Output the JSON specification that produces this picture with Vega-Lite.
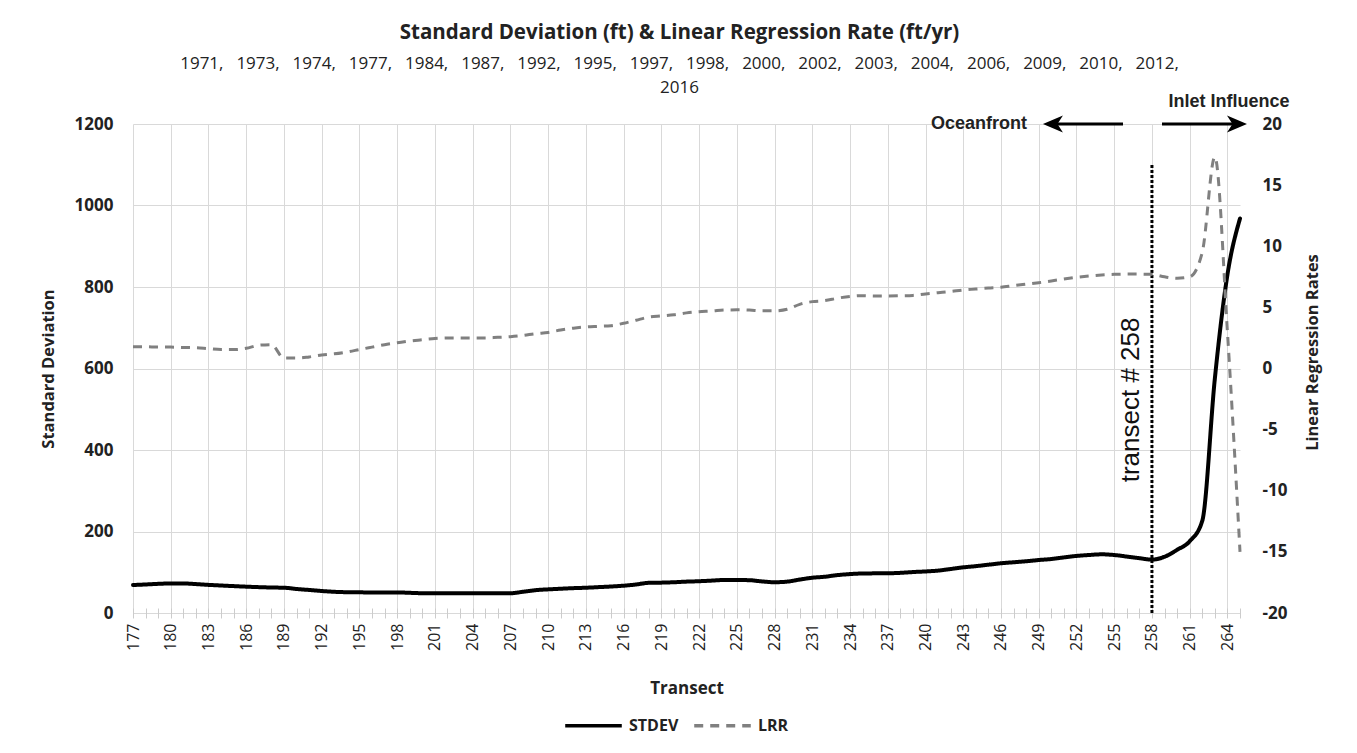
{
  "$schema": "https://vega.github.io/schema/vega-lite/v6.json",
  "width": 1107,
  "height": 489,
  "autosize": "none",
  "padding": {"left": 133, "top": 124, "right": 117, "bottom": 140},
  "background": "white",
  "title": {
    "text": "Standard Deviation (ft) & Linear Regression Rate (ft/yr)",
    "subtitle": ["1971,\u2002 1973,\u2002 1974,\u2002 1977,\u2002 1984,\u2002 1987,\u2002 1992,\u2002 1995,\u2002 1997,\u2002 1998,\u2002 2000,\u2002 2002,\u2002 2003,\u2002 2004,\u2002 2006,\u2002 2009,\u2002 2010,\u2002 2012,", "2016"],
    "font": "Open Sans",
    "fontSize": 20.5,
    "fontWeight": "bold",
    "color": "#222222",
    "subtitleFont": "Open Sans",
    "subtitleFontSize": 17,
    "subtitleColor": "#222222",
    "subtitleLineHeight": 24,
    "subtitlePadding": 12,
    "anchor": "middle",
    "frame": "group",
    "dx": -7,
    "offset": -3
  },
  "datasets": {
    "lines": [
      {"t":177,"STDEV":68.7,"LRR":1.78},{"t":178,"STDEV":70,"LRR":1.78},{"t":179,"STDEV":71.5,"LRR":1.75},
      {"t":180,"STDEV":72.5,"LRR":1.75},{"t":181,"STDEV":72.5,"LRR":1.72},{"t":182,"STDEV":71,"LRR":1.7},
      {"t":183,"STDEV":69,"LRR":1.62},{"t":184,"STDEV":67.5,"LRR":1.55},{"t":185,"STDEV":66,"LRR":1.55},
      {"t":186,"STDEV":64.6,"LRR":1.65},{"t":187,"STDEV":63.5,"LRR":1.9},{"t":188,"STDEV":62.5,"LRR":1.95},
      {"t":189,"STDEV":62,"LRR":0.85},{"t":190,"STDEV":59,"LRR":0.85},{"t":191,"STDEV":56.5,"LRR":0.95},
      {"t":192,"STDEV":54,"LRR":1.1},{"t":193,"STDEV":52,"LRR":1.2},{"t":194,"STDEV":51,"LRR":1.35},
      {"t":195,"STDEV":50.7,"LRR":1.55},{"t":196,"STDEV":50.5,"LRR":1.75},{"t":197,"STDEV":50.5,"LRR":1.95},
      {"t":198,"STDEV":50.5,"LRR":2.1},{"t":199,"STDEV":49.5,"LRR":2.25},{"t":200,"STDEV":48.5,"LRR":2.35},
      {"t":201,"STDEV":48.3,"LRR":2.45},{"t":202,"STDEV":48.3,"LRR":2.5},{"t":203,"STDEV":48.3,"LRR":2.5},
      {"t":204,"STDEV":48.3,"LRR":2.5},{"t":205,"STDEV":48.3,"LRR":2.5},{"t":206,"STDEV":48.3,"LRR":2.55},
      {"t":207,"STDEV":48.5,"LRR":2.6},{"t":208,"STDEV":52,"LRR":2.7},{"t":209,"STDEV":56,"LRR":2.85},
      {"t":210,"STDEV":58,"LRR":2.95},{"t":211,"STDEV":59.5,"LRR":3.15},{"t":212,"STDEV":61,"LRR":3.3},
      {"t":213,"STDEV":62,"LRR":3.4},{"t":214,"STDEV":63.5,"LRR":3.45},{"t":215,"STDEV":65,"LRR":3.5},
      {"t":216,"STDEV":67,"LRR":3.7},{"t":217,"STDEV":70,"LRR":3.95},{"t":218,"STDEV":74,"LRR":4.2},
      {"t":219,"STDEV":74.5,"LRR":4.3},{"t":220,"STDEV":75.5,"LRR":4.4},{"t":221,"STDEV":77,"LRR":4.55},
      {"t":222,"STDEV":78,"LRR":4.65},{"t":223,"STDEV":79.5,"LRR":4.7},{"t":224,"STDEV":81,"LRR":4.78},
      {"t":225,"STDEV":81,"LRR":4.8},{"t":226,"STDEV":80.5,"LRR":4.78},{"t":227,"STDEV":77.5,"LRR":4.72},
      {"t":228,"STDEV":75.5,"LRR":4.72},{"t":229,"STDEV":77,"LRR":4.85},{"t":230,"STDEV":82,"LRR":5.25},
      {"t":231,"STDEV":86.5,"LRR":5.47},{"t":232,"STDEV":89,"LRR":5.55},{"t":233,"STDEV":93,"LRR":5.75},
      {"t":234,"STDEV":95.5,"LRR":5.9},{"t":235,"STDEV":97,"LRR":5.96},{"t":236,"STDEV":97.3,"LRR":5.93},
      {"t":237,"STDEV":97.5,"LRR":5.93},{"t":238,"STDEV":98.5,"LRR":5.95},{"t":239,"STDEV":100.5,"LRR":5.98},
      {"t":240,"STDEV":102,"LRR":6.1},{"t":241,"STDEV":104,"LRR":6.2},{"t":242,"STDEV":108,"LRR":6.3},
      {"t":243,"STDEV":112,"LRR":6.42},{"t":244,"STDEV":115,"LRR":6.5},{"t":245,"STDEV":118.5,"LRR":6.58},
      {"t":246,"STDEV":122,"LRR":6.65},{"t":247,"STDEV":124.5,"LRR":6.78},{"t":248,"STDEV":127,"LRR":6.9},
      {"t":249,"STDEV":130,"LRR":7.02},{"t":250,"STDEV":132.5,"LRR":7.16},{"t":251,"STDEV":136.5,"LRR":7.32},
      {"t":252,"STDEV":140,"LRR":7.46},{"t":253,"STDEV":142.3,"LRR":7.57},{"t":254,"STDEV":144,"LRR":7.65},
      {"t":255,"STDEV":142.3,"LRR":7.7},{"t":256,"STDEV":138.5,"LRR":7.72},{"t":257,"STDEV":134.5,"LRR":7.72},
      {"t":258,"STDEV":131,"LRR":7.7},{"t":259,"STDEV":138,"LRR":7.5},{"t":260,"STDEV":155,"LRR":7.38},
      {"t":261,"STDEV":176,"LRR":7.5},{"t":262,"STDEV":226,"LRR":9.5},{"t":263,"STDEV":575,"LRR":17.3},
      {"t":264,"STDEV":830,"LRR":3},{"t":265,"STDEV":968,"LRR":-15}
    ]
  },
  "layer": [
    {
      "encoding": {
        "x": {
          "field": "t", "type": "quantitative",
          "scale": {"domain": [177, 265], "nice": false, "zero": false},
          "axis": {
            "orient": "bottom",
            "values": [177,180,183,186,189,192,195,198,201,204,207,210,213,216,219,222,225,228,231,234,237,240,243,246,249,252,255,258,261,264],
            "grid": true, "gridColor": "#d9d9d9", "gridWidth": 1,
            "ticks": false, "tickSize": 0, "domain": false,
            "labelAngle": 270, "labelFont": "Open Sans", "labelFontSize": 16, "labelColor": "#222222",
            "labelPadding": 10, "labelOverlap": false, "labelFlush": false,
            "title": "Transect", "titleFont": "Open Sans", "titleFontSize": 17, "titleFontWeight": "bold",
            "titleColor": "#222222", "titleY": 75, "titleBaseline": "middle"
          }
        },
        "y": {
          "field": "v", "type": "quantitative",
          "scale": {"domain": [0, 1200], "nice": false, "zero": false},
          "axis": {
            "orient": "left",
            "values": [0,200,400,600,800,1000,1200],
            "labelExpr": "'' + datum.value",
            "grid": true, "gridColor": "#d9d9d9", "gridWidth": 1,
            "ticks": false, "tickSize": 0, "domain": false,
            "labelFont": "Open Sans", "labelFontSize": 17, "labelFontWeight": "bold", "labelColor": "#222222",
            "labelPadding": 20,
            "title": "Standard Deviation", "titleFont": "Open Sans", "titleFontSize": 16.5, "titleFontWeight": "bold",
            "titleColor": "#222222", "titleAngle": 270, "titleX": -85, "titleY": 244.5,
            "titleAlign": "center", "titleBaseline": "middle"
          }
        }
      },
      "layer": [
        {
          "data": {"name": "lines"},
          "transform": [
            {"fold": ["STDEV", "LRR"], "as": ["series", "v"]},
            {"filter": "datum.series === 'STDEV'"}
          ],
          "mark": {"type": "line", "interpolate": "monotone", "strokeWidth": 4, "strokeCap": "round"},
          "encoding": {
            "color": {
              "field": "series", "type": "nominal",
              "scale": {"domain": ["STDEV", "LRR"], "range": ["#000000", "#808080"]},
              "legend": {
                "orient": "none", "legendX": 430, "legendY": 571, "direction": "horizontal",
                "title": null, "symbolType": "stroke", "symbolSize": 3200, "symbolStrokeWidth": 3.5,
                "labelFont": "Open Sans", "labelFontSize": 16, "labelFontWeight": "bold", "labelColor": "#222222",
                "columnPadding": 8, "labelOffset": 5, "padding": 0
              }
            },
            "strokeDash": {
              "field": "series", "type": "nominal",
              "scale": {"domain": ["STDEV", "LRR"], "range": [[1, 0], [9, 7]]},
              "legend": {
                "orient": "none", "legendX": 430, "legendY": 571, "direction": "horizontal",
                "title": null, "symbolType": "stroke", "symbolSize": 3200, "symbolStrokeWidth": 3.5,
                "labelFont": "Open Sans", "labelFontSize": 16, "labelFontWeight": "bold", "labelColor": "#222222",
                "columnPadding": 8, "labelOffset": 5, "padding": 0
              }
            }
          }
        },
        {
          "data": {"values": [{"t": 258, "v": 0, "v2": 1100}]},
          "mark": {"type": "rule", "color": "#000000", "strokeWidth": 3, "strokeDash": [3, 2]},
          "encoding": {"y2": {"field": "v2"}}
        },
        {
          "data": {"values": [{"t": 255.7, "t2": 250.13, "v": 1200}, {"t": 258.8, "t2": 264.76, "v": 1200}]},
          "mark": {"type": "rule", "color": "#000000", "strokeWidth": 3},
          "encoding": {"x2": {"field": "t2"}}
        },
        {
          "data": {"values": [{"t": 250.13, "v": 1200}]},
          "mark": {"type": "point", "shape": "M1,-0.85 L-1,0 L1,0.85 L0.45,0 Z", "filled": true, "size": 400, "color": "#000000", "opacity": 1, "strokeWidth": 0}
        },
        {
          "data": {"values": [{"t": 264.76, "v": 1200}]},
          "mark": {"type": "point", "shape": "M-1,-0.85 L1,0 L-1,0.85 L-0.45,0 Z", "filled": true, "size": 400, "color": "#000000", "opacity": 1, "strokeWidth": 0}
        },
        {
          "data": {"values": [{"t": 248.07, "v": 1200, "label": "Oceanfront"}]},
          "mark": {"type": "text", "font": "Liberation Sans", "fontSize": 18, "fontWeight": "bold", "align": "right", "baseline": "middle", "color": "#222222"},
          "encoding": {"text": {"field": "label"}}
        },
        {
          "data": {"values": [{"t": 264.12, "v": 1254, "label": "Inlet Influence"}]},
          "mark": {"type": "text", "font": "Liberation Sans", "fontSize": 18, "fontWeight": "bold", "align": "center", "baseline": "middle", "color": "#222222"},
          "encoding": {"text": {"field": "label"}}
        },
        {
          "data": {"values": [{"t": 256.3, "v": 523, "label": "transect # 258"}]},
          "mark": {"type": "text", "font": "Liberation Sans", "fontSize": 26, "angle": 270, "align": "center", "baseline": "middle", "color": "#111111"},
          "encoding": {"text": {"field": "label"}}
        }
      ]
    },
    {
      "data": {"name": "lines"},
      "transform": [
        {"fold": ["STDEV", "LRR"], "as": ["series", "v"]},
        {"filter": "datum.series === 'LRR'"}
      ],
      "mark": {"type": "line", "interpolate": "monotone", "strokeWidth": 3},
      "encoding": {
        "x": {
          "field": "t", "type": "quantitative",
          "scale": {"domain": [177, 265], "nice": false, "zero": false},
          "axis": {
            "orient": "bottom", "offset": -5,
            "values": [177,178,179,180,181,182,183,184,185,186,187,188,189,190,191,192,193,194,195,196,197,198,199,200,201,202,203,204,205,206,207,208,209,210,211,212,213,214,215,216,217,218,219,220,221,222,223,224,225,226,227,228,229,230,231,232,233,234,235,236,237,238,239,240,241,242,243,244,245,246,247,248,249,250,251,252,253,254,255,256,257,258,259,260,261,262,263,264,265],
            "grid": false, "domain": false, "labels": false, "ticks": true, "tickSize": 10,
            "tickColor": "#cccccc", "tickWidth": 1, "title": null
          }
        },
        "y": {
          "field": "v", "type": "quantitative",
          "scale": {"domain": [-20, 20], "nice": false, "zero": false},
          "axis": {
            "orient": "right",
            "values": [-20,-15,-10,-5,0,5,10,15,20],
            "labelExpr": "'' + datum.value",
            "grid": false, "ticks": false, "tickSize": 0, "domain": false,
            "labelFont": "Open Sans", "labelFontSize": 17, "labelFontWeight": "bold", "labelColor": "#222222",
            "labelPadding": 22,
            "title": "Linear Regression Rates", "titleFont": "Open Sans", "titleFontSize": 16.5, "titleFontWeight": "bold",
            "titleColor": "#222222", "titleAngle": 270, "titleX": 72, "titleY": 228,
            "titleAlign": "center", "titleBaseline": "middle"
          }
        },
        "color": {"field": "series", "type": "nominal", "scale": {"domain": ["STDEV", "LRR"], "range": ["#000000", "#808080"]}},
        "strokeDash": {"field": "series", "type": "nominal", "scale": {"domain": ["STDEV", "LRR"], "range": [[1, 0], [9, 7]]}}
      }
    }
  ],
  "resolve": {"scale": {"y": "independent"}, "axis": {"x": "independent"}},
  "config": {
    "view": {"stroke": null},
    "axis": {"labelFont": "Open Sans", "titleFont": "Open Sans"}
  }
}
